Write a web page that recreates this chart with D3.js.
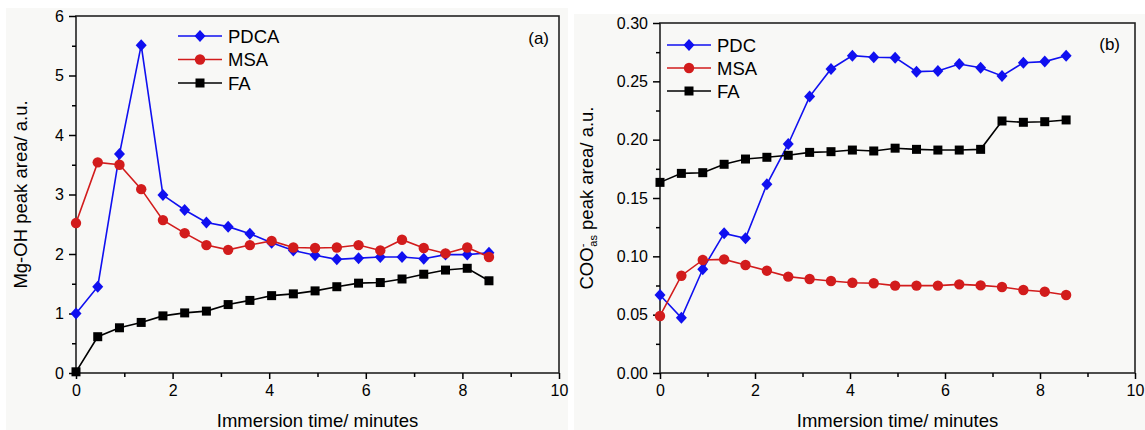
<!DOCTYPE html>
<html><head><meta charset="utf-8">
<script src="https://cdn.jsdelivr.net/npm/d3@7"></script>
<style>html,body{margin:0;padding:0;background:#fff;}svg{display:block;font-family:"Liberation Sans",Arial,sans-serif;}</style>
</head><body>
<svg id="chart" width="1145" height="430"></svg>
<script>
// ---- data ----
const times = [0, 0.45, 0.9, 1.35, 1.8, 2.25, 2.7, 3.15, 3.6, 4.05, 4.5, 4.95, 5.4, 5.85, 6.3, 6.75, 7.2, 7.65, 8.1, 8.55];
// panel (a) Mg-OH peak area
const aPDCA = [1.00, 1.45, 3.68, 5.51, 2.99, 2.74, 2.53, 2.46, 2.34, 2.19, 2.06, 1.98, 1.91, 1.93, 1.95, 1.95, 1.92, 1.99, 1.99, 2.02];
const aMSA  = [2.52, 3.54, 3.50, 3.09, 2.57, 2.35, 2.15, 2.07, 2.15, 2.22, 2.11, 2.10, 2.11, 2.15, 2.06, 2.24, 2.10, 2.01, 2.11, 1.95];
const aFA   = [0.02, 0.61, 0.76, 0.85, 0.96, 1.01, 1.04, 1.15, 1.22, 1.30, 1.33, 1.38, 1.45, 1.51, 1.52, 1.58, 1.66, 1.73, 1.76, 1.55];
// panel (b) COO-as peak area
const bPDC = [0.0669, 0.0474, 0.0889, 0.1197, 0.1154, 0.1617, 0.1963, 0.2369, 0.2606, 0.2720, 0.2706, 0.2703, 0.2583, 0.2589, 0.2649, 0.2617, 0.2546, 0.2660, 0.2669, 0.2720];
const bMSA = [0.0489, 0.0834, 0.0969, 0.0974, 0.0926, 0.0877, 0.0826, 0.0806, 0.0789, 0.0774, 0.0769, 0.0749, 0.0749, 0.0749, 0.0760, 0.0751, 0.0737, 0.0711, 0.0697, 0.0669];
const bFA  = [0.1634, 0.1711, 0.1717, 0.1789, 0.1834, 0.1849, 0.1866, 0.1891, 0.1897, 0.1911, 0.1903, 0.1927, 0.1917, 0.1911, 0.1911, 0.1917, 0.2160, 0.2149, 0.2154, 0.2169];
const xTicks = [0, 2, 4, 6, 8, 10];
const aYTicks = [0, 1, 2, 3, 4, 5, 6];
const bYTicks = [0, 0.05, 0.10, 0.15, 0.20, 0.25, 0.30];
const aNames = ["PDCA", "MSA", "FA"];
const bNames = ["PDC", "MSA", "FA"];

const colors = {blue: "#1010f0", red: "#d21c1c", black: "#000"};
const svg = d3.select("#chart");

// backgrounds
svg.append("rect").attr("x", 6).attr("y", 8).attr("width", 562).attr("height", 422).attr("fill", "#f8f8f6");
svg.append("rect").attr("x", 574).attr("y", 14).attr("width", 571).attr("height", 416).attr("fill", "#f8f8f6");

function marker(g, type, color, cx, cy) {
  if (type === "diamond") {
    g.append("path").attr("d", `M${cx},${cy-6}L${cx+5.5},${cy}L${cx},${cy+6}L${cx-5.5},${cy}Z`).attr("fill", color);
  } else if (type === "circle") {
    g.append("circle").attr("cx", cx).attr("cy", cy).attr("r", 5.2).attr("fill", color);
  } else {
    g.append("rect").attr("x", cx-4.5).attr("y", cy-4.5).attr("width", 9).attr("height", 9).attr("fill", color);
  }
}

function panel(opt) {
  const {x0, x1, yTop, yBot, yDomain, yTicks, yMinor, yFmt, series, names, legend, label, labelPos, yTitle, yTitleX} = opt;
  const x = d3.scaleLinear().domain([0, 10]).range([x0, x1]);
  const y = d3.scaleLinear().domain(yDomain).range([yBot, yTop]);
  const g = svg.append("g");

  // frame
  g.append("rect").attr("x", x0).attr("y", yTop).attr("width", x1 - x0).attr("height", yBot - yTop)
    .attr("fill", "none").attr("stroke", "#222").attr("stroke-width", 1.6);

  // x axis
  const xa = g.append("g").attr("transform", `translate(0,${yBot})`)
    .call(d3.axisBottom(x).tickValues(xTicks).tickSize(6).tickFormat(d3.format("d")));
  xa.append("g").call(d3.axisBottom(x).tickValues([1,3,5,7,9]).tickSize(4).tickFormat(""));
  // y axis
  const ya = g.append("g").attr("transform", `translate(${x0},0)`)
    .call(d3.axisLeft(y).tickValues(yTicks).tickSize(7).tickPadding(5).tickFormat(yFmt));
  ya.append("g").call(d3.axisLeft(y).tickValues(yMinor).tickSize(4).tickFormat(""));
  [xa, ya].forEach(a => {
    a.selectAll(".domain").attr("stroke", "#000").attr("stroke-width", 2);
    a.selectAll("line").attr("stroke", "#000").attr("stroke-width", 1.5);
    a.selectAll("text").attr("fill", "#000").style("font-size", "16px");
  });
  xa.selectAll("g > .domain").remove();
  xa.selectAll("text").attr("dy", "0.9em").attr("y", 9);
  ya.selectAll("g > .domain").remove();

  // series
  series.forEach(s => {
    const line = d3.line().x((d, i) => x(times[i])).y(d => y(d));
    g.append("path").datum(s.values).attr("d", line).attr("fill", "none")
      .attr("stroke", s.color).attr("stroke-width", 1.6);
    s.values.forEach((v, i) => marker(g, s.type, s.color, x(times[i]), y(v)));
  });

  // legend
  series.forEach((s, i) => {
    const ly = legend.y + i * legend.dy;
    g.append("line").attr("x1", legend.x).attr("x2", legend.x + 44).attr("y1", ly).attr("y2", ly)
      .attr("stroke", s.color).attr("stroke-width", 1.6);
    marker(g, s.type, s.color, legend.x + 22, ly);
    g.append("text").attr("x", legend.x + 50).attr("y", ly + 6.5).text(names[i])
      .style("font-size", "18.5px").attr("fill", "#000");
  });

  // panel label
  g.append("text").attr("x", labelPos[0]).attr("y", labelPos[1]).attr("text-anchor", "end")
    .style("font-size", "17px").text(label);

  // x title
  g.append("text").attr("x", (x0 + x1) / 2).attr("y", 427).attr("text-anchor", "middle")
    .style("font-size", "18.5px").text("Immersion time/ minutes");

  // y title
  const yt = g.append("text").attr("transform", `translate(${yTitleX},${(yTop + yBot) / 2}) rotate(-90)`)
    .attr("text-anchor", "middle").style("font-size", "18.5px");
  yTitle(yt);
}

panel({
  x0: 76, x1: 559, yTop: 16, yBot: 373, yDomain: [0, 6], yTicks: aYTicks,
  yMinor: [0.5, 1.5, 2.5, 3.5, 4.5, 5.5], yFmt: d3.format("d"),
  series: [
    {values: aPDCA, color: colors.blue, type: "diamond"},
    {values: aMSA, color: colors.red, type: "circle"},
    {values: aFA, color: colors.black, type: "square"}
  ],
  names: aNames, legend: {x: 178, y: 36, dy: 23.5},
  label: "(a)", labelPos: [549, 44],
  yTitle: t => t.text("Mg-OH peak area/ a.u."), yTitleX: 27
});

panel({
  x0: 660, x1: 1135, yTop: 23, yBot: 373, yDomain: [0, 0.30], yTicks: bYTicks,
  yMinor: [0.025, 0.075, 0.125, 0.175, 0.225, 0.275], yFmt: d3.format(".2f"),
  series: [
    {values: bPDC, color: colors.blue, type: "diamond"},
    {values: bMSA, color: colors.red, type: "circle"},
    {values: bFA, color: colors.black, type: "square"}
  ],
  names: bNames, legend: {x: 667, y: 45, dy: 23},
  label: "(b)", labelPos: [1120, 50],
  yTitle: t => {
    t.append("tspan").text("COO");
    t.append("tspan").attr("dy", -7).style("font-size", "11px").text("-");
    t.append("tspan").attr("dy", 11).attr("dx", -3).style("font-size", "11px").text("as");
    t.append("tspan").attr("dy", -4).text(" peak area/ a.u.");
  }, yTitleX: 593
});
</script>
</body></html>
